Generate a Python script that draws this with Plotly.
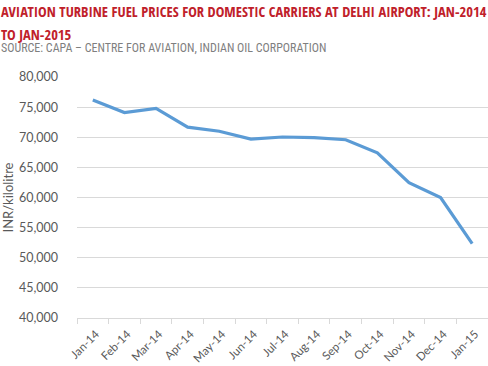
import plotly.graph_objects as go

months = ["Jan-14", "Feb-14", "Mar-14", "Apr-14", "May-14", "Jun-14", "Jul-14",
          "Aug-14", "Sep-14", "Oct-14", "Nov-14", "Dec-14", "Jan-15"]
prices = [76170, 74100, 74780, 71670, 71000, 69700, 70040,
          69950, 69590, 67420, 62460, 60000, 52350]
y_ticks = [40000, 45000, 50000, 55000, 60000, 65000, 70000, 75000, 80000]

title_line1 = "AVIATION TURBINE FUEL PRICES FOR DOMESTIC CARRIERS AT DELHI AIRPORT: JAN-2014"
title_line2 = "TO JAN-2015"
source_text = "SOURCE: CAPA – CENTRE FOR AVIATION, INDIAN OIL CORPORATION"

fig = go.Figure()
fig.add_trace(go.Scatter(x=months, y=prices, mode="lines",
                         line=dict(color="#5B9BD5", width=3.2)))

L, T, B = 77, 77, 48
W, H = 488, 366
pw, ph = W - L, H - T - B

fig.update_layout(
    width=W, height=H,
    margin=dict(l=L, r=0, t=T, b=B, autoexpand=False),
    paper_bgcolor="white", plot_bgcolor="white",
    showlegend=False,
    font=dict(family="Lato, Open Sans, sans-serif", color="#595959", size=13),
)
fig.update_xaxes(type="category", range=[-0.5, len(months) - 0.5],
                 showgrid=False, showline=True, linecolor="#d9d9d9",
                 ticks="outside", ticklen=5, tickcolor="#d9d9d9",
                 tickson="boundaries", tickangle=-45,
                 ticklabelstandoff=4, ticklabelshift=3,
                 tickfont=dict(size=11.5, color="#595959"))
fig.update_yaxes(range=[40000, 80000], tickvals=y_ticks, tickformat=",",
                 showgrid=True, gridcolor="#d9d9d9", gridwidth=1,
                 zeroline=False, showline=False, ticks="",
                 ticklabelstandoff=18,
                 tickfont=dict(size=12.5, color="#595959"),
                 title=dict(text="INR/kilolitre", standoff=10,
                            font=dict(size=13, color="#595959")))

def top_y(ypix):
    return 1 + (T - ypix) / ph

title_font = dict(family="Open Sans Condensed, Roboto Condensed, sans-serif",
                  size=14.5, color="#C0202A", weight="bold")
fig.add_annotation(xref="paper", yref="paper", x=-L / pw, y=top_y(1),
                   xanchor="left", yanchor="top", align="left", showarrow=False,
                   borderpad=0, text=title_line1, font=title_font)
fig.add_annotation(xref="paper", yref="paper", x=-L / pw, y=top_y(24),
                   xanchor="left", yanchor="top", align="left", showarrow=False,
                   borderpad=0, text=title_line2, font=title_font)
fig.add_annotation(xref="paper", yref="paper", x=-L / pw, y=top_y(40),
                   xanchor="left", yanchor="top", align="left", showarrow=False,
                   borderpad=0, text=source_text,
                   font=dict(family="Roboto Condensed, sans-serif",
                             size=12, color="#7f7f7f", weight=400))

fig.write_html("out.html", config={"displayModeBar": False},
               post_script="document.body.style.margin='0';")
